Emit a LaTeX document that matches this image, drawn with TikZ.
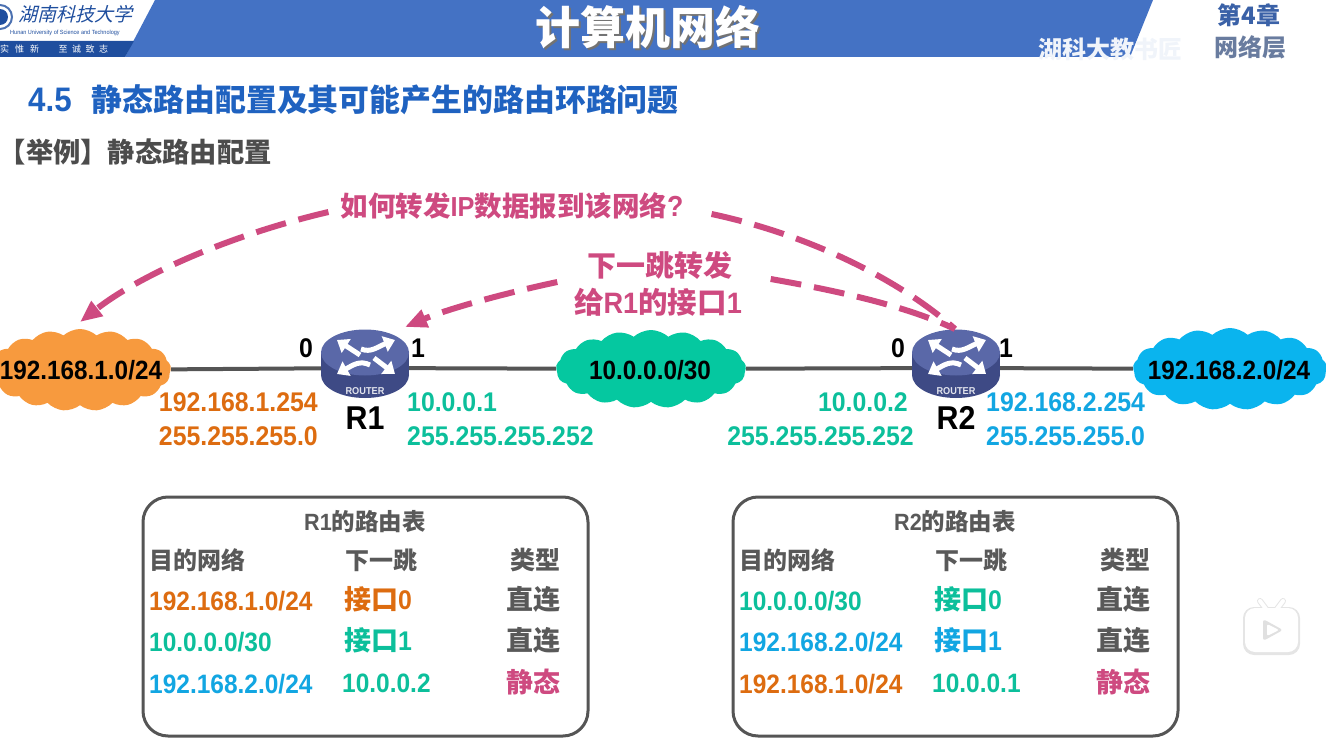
\documentclass[tikz,border=0pt]{standalone}
\usepackage{fontspec}
\setmainfont{Noto Sans CJK SC}
\newfontfamily\lat[FakeStretch=0.92]{Liberation Sans}
\newfontfamily\logofont[FakeSlant=0.25]{Noto Sans CJK SC}
\usetikzlibrary{shapes.symbols,arrows.meta,backgrounds,calc}
\definecolor{hdrblue}{HTML}{4472C4}
\definecolor{deepblue}{HTML}{1F4E9E}
\definecolor{titleblue}{HTML}{1F62C0}
\definecolor{orgc}{HTML}{DD6C10}
\definecolor{tealc}{HTML}{0CBF9B}
\definecolor{bluec}{HTML}{12A6E2}
\definecolor{pinkc}{HTML}{CE4A80}
\definecolor{grayc}{HTML}{595959}
\definecolor{linec}{HTML}{555555}
\definecolor{cloudorg}{HTML}{F79A3E}
\definecolor{cloudteal}{HTML}{05C8A0}
\definecolor{cloudblue}{HTML}{0AB4EE}
\definecolor{rtop}{HTML}{5A68A8}
\definecolor{rside}{HTML}{3E4A85}
\newcommand\fsz[1]{\fontsize{#1pt}{#1pt}\selectfont}
\tikzset{
 x=1pt,y=-1pt,
 lbl/.style={inner sep=0pt,font=\fsz{27}\bfseries},
 addr/.style={lbl,font=\lat\fsz{27}\bfseries},
 hdrt/.style={lbl,font=\fsz{24}\bfseries,text=grayc},
 cell/.style={lbl,font=\lat\fsz{26.6}\bfseries},
 iface/.style={lbl,font=\fsz{27}\bfseries},
 typet/.style={lbl,font=\fsz{27}\bfseries,text=grayc},
 ifnum/.style={lbl,font=\lat\fsz{27}\bfseries,text=black},
 rname/.style={lbl,font=\lat\fsz{33}\bfseries,text=black},
 netcloud/.style={cloud,cloud puffs=17,cloud puff arc=85,aspect=2.4,draw=none,inner sep=0pt},
 cloudtxt/.style={lbl,font=\lat\fsz{26.4}\bfseries,text=black},
 tablebox/.style={draw=linec,line width=3pt,rounded corners=25pt,fill=white,minimum width=445pt,minimum height=239pt,inner sep=0pt},
 wire/.style={draw=linec,line width=4pt},
 pinkdash/.style={draw=pinkc,line width=6pt,dash pattern=on 31pt off 13pt,-{Triangle[length=22pt,width=18pt]}},
 pinklbl/.style={lbl,font=\fsz{29.5}\bfseries,text=pinkc},
 routerdev/.pic={
  \fill[rside] (-44,-4) rectangle (44,18);
  \fill[rside] (0,18) ellipse[x radius=44,y radius=23];
  \fill[rtop] (0,-4.5) ellipse[x radius=44,y radius=23];
  \begin{scope}[white,line width=5pt]
   \draw[-{Triangle[length=11pt,width=16pt]}] (-5,-2) -- (-28,-17);
   \draw[-{Triangle[length=11pt,width=16pt]}] (-4,-8) .. controls (6,-4) and (12,-10) .. (30,-17);
   \draw[-{Triangle[length=11pt,width=16pt]}] (5,8) .. controls (-5,3) and (-12,8) .. (-28,17);
   \draw[-{Triangle[length=11pt,width=16pt]}] (9,1) -- (30,17);
  \end{scope}
  \node[text=white!85!rside,inner sep=0pt,font=\lat\fsz{10}\bfseries] at (0,34) {ROUTER};
 },
}
\begin{document}
\begin{tikzpicture}
\useasboundingbox (0,0) rectangle (1326,752);
% header
\fill[hdrblue] (155,0) -- (1153,0) -- (1130,57) -- (125,57) -- cycle;
\fill[deepblue] (0,41) -- (134,41) -- (125,57) -- (0,57) -- cycle;
\fill[deepblue] (0,17) circle[radius=8];
\draw[deepblue!80,line width=2pt] (0,17) circle[radius=12];
\node[lbl,anchor=west,font=\logofont\fsz{19},text=deepblue] (logocn) at (18,14) {湖南科技大学};
\node[lbl,anchor=west,font=\lat\fsz{6},text=deepblue] (logoen) at (10,33) {Hunan University of Science and Technology};
\node[lbl,anchor=west,font=\fsz{9},text=white] (logomotto) at (0,49) {实\,\,\,\,惟\,\,\,\,新\quad\quad\,至\,\,\,诚\,\,\,致\,\,\,志};
\node[lbl,font=\fsz{45}\bfseries,text=black!55] (titleshadow) at (650,29) {计算机网络};
\node[lbl,font=\fsz{45}\bfseries,text=white] (title) at (648,27) {计算机网络};
\node[lbl,font=\fsz{24}\bfseries,text=hdrblue!85!black] (chap) at (1249,15) {第4章};
\node[lbl,font=\fsz{24}\bfseries,text=hdrblue!60!black!70] (chapname) at (1250,47) {网络层};
\node[lbl,anchor=west,font=\fsz{24}\bfseries,text=white!92!hdrblue] (wm) at (1038,49) {湖科大教书匠};
% headings
\node[lbl,anchor=west,font=\fsz{30.9}\bfseries,text=titleblue] (sec) at (28,100) {{\lat\fsz{34}4.5}\hspace{20pt}静态路由配置及其可能产生的路由环路问题};
\node[lbl,anchor=east,font=\fsz{27.3}\bfseries,text=black!70] (ex) at (272,152) {【举例】静态路由配置};
% network
\node[netcloud,fill=cloudorg,minimum width=182pt,minimum height=82pt] (c1) at (80,370) {};
\node[netcloud,fill=cloudteal,minimum width=190pt,minimum height=78pt] (c2) at (651,369) {};
\node[netcloud,fill=cloudblue,minimum width=194pt,minimum height=82pt] (c3) at (1230,369) {};
\node[cloudtxt] (c1t) at (81,370) {192.168.1.0/24};
\node[cloudtxt] (c2t) at (650,370) {10.0.0.0/30};
\node[cloudtxt] (c3t) at (1229,370) {192.168.2.0/24};
\coordinate (r1) at (365,368);
\coordinate (r2) at (956,368);
\begin{scope}[on background layer]
\draw[wire] (c1) -- (r1) -- (c2) -- (r2) -- (c3);
\end{scope}
\pic at (365,357) {routerdev};
\pic at (956,357) {routerdev};
\node[ifnum] (r1p0) at (306,348) {0};
\node[ifnum] (r1p1) at (418,348) {1};
\node[ifnum] (r2p0) at (898,348) {0};
\node[ifnum] (r2p1) at (1006,348) {1};
\node[rname] (r1n) at (365,418) {R1};
\node[rname] (r2n) at (956,418) {R2};
\node[addr,anchor=east,text=orgc] (a1) at (318,402) {192.168.1.254};
\node[addr,anchor=east,text=orgc] (a2) at (318,436) {255.255.255.0};
\node[addr,anchor=west,text=tealc] (a3) at (407,402) {10.0.0.1};
\node[addr,anchor=west,text=tealc] (a4) at (407,436) {255.255.255.252};
\node[addr,anchor=east,text=tealc] (a5) at (908,402) {10.0.0.2};
\node[addr,anchor=east,text=tealc] (a6) at (914,436) {255.255.255.252};
\node[addr,anchor=west,text=bluec] (a7) at (986,402) {192.168.2.254};
\node[addr,anchor=west,text=bluec] (a8) at (986,436) {255.255.255.0};
% questions
\node[pinklbl,font=\fsz{27.5}\bfseries] (q1) at (512,206) {如何转发{\lat IP}数据报到该网络{\fsz{29}\lat ?}};
\node[pinklbl,font=\fsz{29}\bfseries] (q2) at (660,265) {下一跳转发};
\node[pinklbl] (q3) at (658,302) {给{\lat R1}的接口{\lat 1}};
\coordinate (t1) at (80,322);
\coordinate (t2) at (405,327);
\coordinate (t3) at (955,329);
\draw[pinkdash] ($(q1.west)+(-12,6)$) .. controls (230,235) and (140,275) .. (t1);
\draw[pinkdash] ($(q2.west)+(-30,17)$) .. controls (510,292) and (450,308) .. (t2);
\draw[pinkdash,-] ($(q1.east)+(28,8)$) .. controls (810,235) and (900,280) .. (t3);
\draw[pinkdash,-] ($(q2.east)+(38,14)$) .. controls (850,293) and (910,308) .. (t3);
% tables
\node[tablebox] (tb1) at (365.5,616.5) {};
\node[tablebox] (tb2) at (955.5,616.5) {};
\foreach \dx/\nm/\ra/\ca/\ia/\rb/\cb/\ib/\rc/\cc/\ic/\cci in {
 0/R1/192.168.1.0\slash 24/orgc/0/10.0.0.0\slash 30/tealc/1/192.168.2.0\slash 24/bluec/10.0.0.2/tealc,
 590/R2/10.0.0.0\slash 30/tealc/0/192.168.2.0\slash 24/bluec/1/192.168.1.0\slash 24/orgc/10.0.0.1/tealc}{
 \node[hdrt,font=\fsz{23.5}\bfseries] (tt\nm) at (365+\dx,522) {{\lat\nm}的路由表};
 \node[hdrt,anchor=west] (ha\nm) at (149+\dx,560) {目的网络};
 \node[hdrt] (hb\nm) at (381+\dx,560) {下一跳};
 \node[hdrt,font=\fsz{25}\bfseries] (hc\nm) at (535+\dx,560) {类型};
 \node[cell,anchor=west,text=\ca] (ra\nm) at (149+\dx,601) {\ra};
 \node[cell,anchor=west,text=\cb] (rb\nm) at (149+\dx,642) {\rb};
 \node[cell,anchor=west,text=\cc] (rc\nm) at (149+\dx,684) {\rc};
 \node[iface,anchor=west,text=\ca] (ia\nm) at (344+\dx,599) {接口{\lat\ia}};
 \node[iface,anchor=west,text=\cb] (ib\nm) at (344+\dx,640) {接口{\lat\ib}};
 \node[cell,anchor=west,text=\cci] (ic\nm) at (342+\dx,683) {\ic};
 \node[typet] (ta\nm) at (533+\dx,599) {直连};
 \node[typet] (tb\nm) at (533+\dx,640) {直连};
 \node[typet,text=pinkc] (tc\nm) at (533+\dx,682) {静态};
}
% play badge
\fill[black!10,rounded corners=11pt] (1243,607) rectangle (1300,655);
\draw[black!10,line width=6pt,line cap=round] (1260,601) -- (1266,609) (1283,601) -- (1277,609);
\fill[white,rounded corners=10pt] (1245,608) rectangle (1298,652);
\draw[white,line width=4pt,line cap=round] (1260,601) -- (1266,609) (1283,601) -- (1277,609);
\fill[black!12,rounded corners=3pt] (1263,619) -- (1283,630) -- (1263,641) -- cycle;
\fill[white,rounded corners=2pt] (1267,624) -- (1279,630) -- (1267,636) -- cycle;
\end{tikzpicture}
\end{document}
